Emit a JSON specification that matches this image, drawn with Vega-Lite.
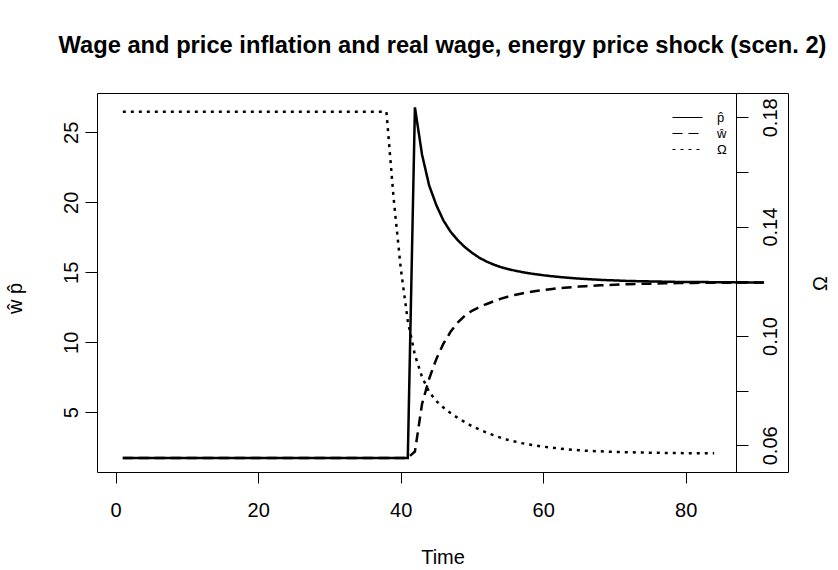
{
  "$schema": "https://vega.github.io/schema/vega-lite/v6.json",
  "width": 691,
  "height": 379,
  "autosize": {"type": "none"},
  "padding": {"left": 97, "top": 93, "right": 50, "bottom": 98},
  "background": "white",
  "config": {
    "view": {"stroke": "black", "strokeWidth": 1},
    "font": "Liberation Sans",
    "axis": {"labelFont": "Liberation Sans", "titleFont": "Liberation Sans", "labelColor": "black", "titleColor": "black", "tickColor": "black", "domainColor": "black", "grid": false, "labelFontSize": 20, "titleFontSize": 20, "titleFontWeight": "normal", "tickWidth": 1, "domainWidth": 1}
  },
  "title": {"text": "Wage and price inflation and real wage, energy price shock (scen. 2)", "font": "Liberation Sans", "fontSize": 23.7, "fontWeight": "bold", "color": "black", "anchor": "middle", "baseline": "alphabetic", "offset": 16},
  "data": {"values": [
    {"t":1,"s":"p̂","v":1.74},{"t":2,"s":"p̂","v":1.74},{"t":3,"s":"p̂","v":1.74},{"t":4,"s":"p̂","v":1.74},{"t":5,"s":"p̂","v":1.74},{"t":6,"s":"p̂","v":1.74},{"t":7,"s":"p̂","v":1.74},{"t":8,"s":"p̂","v":1.74},{"t":9,"s":"p̂","v":1.74},{"t":10,"s":"p̂","v":1.74},
    {"t":11,"s":"p̂","v":1.74},{"t":12,"s":"p̂","v":1.74},{"t":13,"s":"p̂","v":1.74},{"t":14,"s":"p̂","v":1.74},{"t":15,"s":"p̂","v":1.74},{"t":16,"s":"p̂","v":1.74},{"t":17,"s":"p̂","v":1.74},{"t":18,"s":"p̂","v":1.74},{"t":19,"s":"p̂","v":1.74},{"t":20,"s":"p̂","v":1.74},
    {"t":21,"s":"p̂","v":1.74},{"t":22,"s":"p̂","v":1.74},{"t":23,"s":"p̂","v":1.74},{"t":24,"s":"p̂","v":1.74},{"t":25,"s":"p̂","v":1.74},{"t":26,"s":"p̂","v":1.74},{"t":27,"s":"p̂","v":1.74},{"t":28,"s":"p̂","v":1.74},{"t":29,"s":"p̂","v":1.74},{"t":30,"s":"p̂","v":1.74},
    {"t":31,"s":"p̂","v":1.74},{"t":32,"s":"p̂","v":1.74},{"t":33,"s":"p̂","v":1.74},{"t":34,"s":"p̂","v":1.74},{"t":35,"s":"p̂","v":1.74},{"t":36,"s":"p̂","v":1.74},{"t":37,"s":"p̂","v":1.74},{"t":38,"s":"p̂","v":1.74},{"t":39,"s":"p̂","v":1.74},{"t":40,"s":"p̂","v":1.74},
    {"t":41,"s":"p̂","v":1.74},{"t":42,"s":"p̂","v":26.78},{"t":43,"s":"p̂","v":23.4},{"t":44,"s":"p̂","v":21.2},{"t":45,"s":"p̂","v":19.8},{"t":46,"s":"p̂","v":18.7},{"t":47,"s":"p̂","v":17.9},{"t":48,"s":"p̂","v":17.3},{"t":49,"s":"p̂","v":16.8},{"t":50,"s":"p̂","v":16.4},
    {"t":51,"s":"p̂","v":16.05},{"t":52,"s":"p̂","v":15.78},{"t":53,"s":"p̂","v":15.56},{"t":54,"s":"p̂","v":15.38},{"t":55,"s":"p̂","v":15.24},{"t":56,"s":"p̂","v":15.12},{"t":57,"s":"p̂","v":15.02},{"t":58,"s":"p̂","v":14.93},{"t":59,"s":"p̂","v":14.86},{"t":60,"s":"p̂","v":14.79},
    {"t":61,"s":"p̂","v":14.73},{"t":62,"s":"p̂","v":14.68},{"t":63,"s":"p̂","v":14.63},{"t":64,"s":"p̂","v":14.59},{"t":65,"s":"p̂","v":14.55},{"t":66,"s":"p̂","v":14.52},{"t":67,"s":"p̂","v":14.49},{"t":68,"s":"p̂","v":14.46},{"t":69,"s":"p̂","v":14.44},{"t":70,"s":"p̂","v":14.42},
    {"t":71,"s":"p̂","v":14.4},{"t":72,"s":"p̂","v":14.38},{"t":73,"s":"p̂","v":14.37},{"t":74,"s":"p̂","v":14.36},{"t":75,"s":"p̂","v":14.35},{"t":76,"s":"p̂","v":14.34},{"t":77,"s":"p̂","v":14.33},{"t":78,"s":"p̂","v":14.32},{"t":79,"s":"p̂","v":14.31},{"t":80,"s":"p̂","v":14.31},
    {"t":81,"s":"p̂","v":14.3},{"t":82,"s":"p̂","v":14.3},{"t":83,"s":"p̂","v":14.3},{"t":84,"s":"p̂","v":14.29},{"t":85,"s":"p̂","v":14.29},{"t":86,"s":"p̂","v":14.29},{"t":87,"s":"p̂","v":14.28},{"t":88,"s":"p̂","v":14.28},{"t":89,"s":"p̂","v":14.28},{"t":90,"s":"p̂","v":14.28},{"t":91,"s":"p̂","v":14.28},
    {"t":1,"s":"ŵ","v":1.74},{"t":2,"s":"ŵ","v":1.74},{"t":3,"s":"ŵ","v":1.74},{"t":4,"s":"ŵ","v":1.74},{"t":5,"s":"ŵ","v":1.74},{"t":6,"s":"ŵ","v":1.74},{"t":7,"s":"ŵ","v":1.74},{"t":8,"s":"ŵ","v":1.74},{"t":9,"s":"ŵ","v":1.74},{"t":10,"s":"ŵ","v":1.74},
    {"t":11,"s":"ŵ","v":1.74},{"t":12,"s":"ŵ","v":1.74},{"t":13,"s":"ŵ","v":1.74},{"t":14,"s":"ŵ","v":1.74},{"t":15,"s":"ŵ","v":1.74},{"t":16,"s":"ŵ","v":1.74},{"t":17,"s":"ŵ","v":1.74},{"t":18,"s":"ŵ","v":1.74},{"t":19,"s":"ŵ","v":1.74},{"t":20,"s":"ŵ","v":1.74},
    {"t":21,"s":"ŵ","v":1.74},{"t":22,"s":"ŵ","v":1.74},{"t":23,"s":"ŵ","v":1.74},{"t":24,"s":"ŵ","v":1.74},{"t":25,"s":"ŵ","v":1.74},{"t":26,"s":"ŵ","v":1.74},{"t":27,"s":"ŵ","v":1.74},{"t":28,"s":"ŵ","v":1.74},{"t":29,"s":"ŵ","v":1.74},{"t":30,"s":"ŵ","v":1.74},
    {"t":31,"s":"ŵ","v":1.74},{"t":32,"s":"ŵ","v":1.74},{"t":33,"s":"ŵ","v":1.74},{"t":34,"s":"ŵ","v":1.74},{"t":35,"s":"ŵ","v":1.74},{"t":36,"s":"ŵ","v":1.74},{"t":37,"s":"ŵ","v":1.74},{"t":38,"s":"ŵ","v":1.74},{"t":39,"s":"ŵ","v":1.74},{"t":40,"s":"ŵ","v":1.74},
    {"t":41,"s":"ŵ","v":1.74},{"t":42,"s":"ŵ","v":2.2},{"t":43,"s":"ŵ","v":5.6},{"t":44,"s":"ŵ","v":7.4},{"t":45,"s":"ŵ","v":8.8},{"t":46,"s":"ŵ","v":9.9},{"t":47,"s":"ŵ","v":10.75},{"t":48,"s":"ŵ","v":11.4},{"t":49,"s":"ŵ","v":11.9},{"t":50,"s":"ŵ","v":12.25},
    {"t":51,"s":"ŵ","v":12.5},{"t":52,"s":"ŵ","v":12.72},{"t":53,"s":"ŵ","v":12.92},{"t":54,"s":"ŵ","v":13.1},{"t":55,"s":"ŵ","v":13.25},{"t":56,"s":"ŵ","v":13.38},{"t":57,"s":"ŵ","v":13.49},{"t":58,"s":"ŵ","v":13.58},{"t":59,"s":"ŵ","v":13.66},{"t":60,"s":"ŵ","v":13.73},
    {"t":61,"s":"ŵ","v":13.79},{"t":62,"s":"ŵ","v":13.85},{"t":63,"s":"ŵ","v":13.9},{"t":64,"s":"ŵ","v":13.94},{"t":65,"s":"ŵ","v":13.98},{"t":66,"s":"ŵ","v":14.01},{"t":67,"s":"ŵ","v":14.04},{"t":68,"s":"ŵ","v":14.07},{"t":69,"s":"ŵ","v":14.09},{"t":70,"s":"ŵ","v":14.11},
    {"t":71,"s":"ŵ","v":14.13},{"t":72,"s":"ŵ","v":14.15},{"t":73,"s":"ŵ","v":14.16},{"t":74,"s":"ŵ","v":14.18},{"t":75,"s":"ŵ","v":14.19},{"t":76,"s":"ŵ","v":14.2},{"t":77,"s":"ŵ","v":14.21},{"t":78,"s":"ŵ","v":14.22},{"t":79,"s":"ŵ","v":14.23},{"t":80,"s":"ŵ","v":14.23},
    {"t":81,"s":"ŵ","v":14.24},{"t":82,"s":"ŵ","v":14.25},{"t":83,"s":"ŵ","v":14.25},{"t":84,"s":"ŵ","v":14.26},{"t":85,"s":"ŵ","v":14.26},{"t":86,"s":"ŵ","v":14.26},{"t":87,"s":"ŵ","v":14.27},{"t":88,"s":"ŵ","v":14.27},{"t":89,"s":"ŵ","v":14.27},{"t":90,"s":"ŵ","v":14.27},{"t":91,"s":"ŵ","v":14.28},
    {"t":1,"s":"Ω","v":0.182},{"t":2,"s":"Ω","v":0.182},{"t":3,"s":"Ω","v":0.182},{"t":4,"s":"Ω","v":0.182},{"t":5,"s":"Ω","v":0.182},{"t":6,"s":"Ω","v":0.182},{"t":7,"s":"Ω","v":0.182},{"t":8,"s":"Ω","v":0.182},{"t":9,"s":"Ω","v":0.182},{"t":10,"s":"Ω","v":0.182},
    {"t":11,"s":"Ω","v":0.182},{"t":12,"s":"Ω","v":0.182},{"t":13,"s":"Ω","v":0.182},{"t":14,"s":"Ω","v":0.182},{"t":15,"s":"Ω","v":0.182},{"t":16,"s":"Ω","v":0.182},{"t":17,"s":"Ω","v":0.182},{"t":18,"s":"Ω","v":0.182},{"t":19,"s":"Ω","v":0.182},{"t":20,"s":"Ω","v":0.182},
    {"t":21,"s":"Ω","v":0.182},{"t":22,"s":"Ω","v":0.182},{"t":23,"s":"Ω","v":0.182},{"t":24,"s":"Ω","v":0.182},{"t":25,"s":"Ω","v":0.182},{"t":26,"s":"Ω","v":0.182},{"t":27,"s":"Ω","v":0.182},{"t":28,"s":"Ω","v":0.182},{"t":29,"s":"Ω","v":0.182},{"t":30,"s":"Ω","v":0.182},
    {"t":31,"s":"Ω","v":0.182},{"t":32,"s":"Ω","v":0.182},{"t":33,"s":"Ω","v":0.182},{"t":34,"s":"Ω","v":0.182},{"t":35,"s":"Ω","v":0.182},{"t":36,"s":"Ω","v":0.182},{"t":37,"s":"Ω","v":0.182},{"t":38,"s":"Ω","v":0.182},{"t":39,"s":"Ω","v":0.1507},{"t":40,"s":"Ω","v":0.125},
    {"t":41,"s":"Ω","v":0.1055},{"t":42,"s":"Ω","v":0.093},{"t":43,"s":"Ω","v":0.085},{"t":44,"s":"Ω","v":0.0795},{"t":45,"s":"Ω","v":0.0762},{"t":46,"s":"Ω","v":0.0738},{"t":47,"s":"Ω","v":0.0718},{"t":48,"s":"Ω","v":0.07},{"t":49,"s":"Ω","v":0.0685},{"t":50,"s":"Ω","v":0.067},
    {"t":51,"s":"Ω","v":0.0658},{"t":52,"s":"Ω","v":0.0647},{"t":53,"s":"Ω","v":0.0637},{"t":54,"s":"Ω","v":0.0628},{"t":55,"s":"Ω","v":0.062},{"t":56,"s":"Ω","v":0.0614},{"t":57,"s":"Ω","v":0.0608},{"t":58,"s":"Ω","v":0.0603},{"t":59,"s":"Ω","v":0.0599},{"t":60,"s":"Ω","v":0.0595},
    {"t":61,"s":"Ω","v":0.0592},{"t":62,"s":"Ω","v":0.0589},{"t":63,"s":"Ω","v":0.0586},{"t":64,"s":"Ω","v":0.0584},{"t":65,"s":"Ω","v":0.0582},{"t":66,"s":"Ω","v":0.058},{"t":67,"s":"Ω","v":0.0579},{"t":68,"s":"Ω","v":0.0578},{"t":69,"s":"Ω","v":0.0577},{"t":70,"s":"Ω","v":0.0576},
    {"t":71,"s":"Ω","v":0.0575},{"t":72,"s":"Ω","v":0.0575},{"t":73,"s":"Ω","v":0.0574},{"t":74,"s":"Ω","v":0.0574},{"t":75,"s":"Ω","v":0.0573},{"t":76,"s":"Ω","v":0.0573},{"t":77,"s":"Ω","v":0.0572},{"t":78,"s":"Ω","v":0.0572},{"t":79,"s":"Ω","v":0.0572},{"t":80,"s":"Ω","v":0.0571},
    {"t":81,"s":"Ω","v":0.0571},{"t":82,"s":"Ω","v":0.0571},{"t":83,"s":"Ω","v":0.0571},{"t":84,"s":"Ω","v":0.0571}
  ]},
  "layer": [
    {
      "transform": [{"filter": "datum.s !== 'Ω'"}],
      "mark": {"type": "line", "color": "black", "strokeWidth": 2.5, "strokeCap": "butt"},
      "encoding": {
        "x": {"field": "t", "type": "quantitative", "scale": {"domain": [-2.62, 94.36], "nice": false, "zero": false},
          "axis": {"values": [0, 20, 40, 60, 80], "title": "Time", "domain": false, "tickSize": 11, "labelPadding": 17, "titlePadding": 27}},
        "y": {"field": "v", "type": "quantitative", "scale": {"domain": [0.736, 27.807], "nice": false, "zero": false},
          "axis": {"values": [5, 10, 15, 20, 25], "title": "ŵ  p̂", "domain": false, "tickSize": 12, "labelAngle": -90, "labelAlign": "center", "labelBaseline": "bottom", "labelPadding": 4, "titleAngle": -90, "titleAlign": "center", "titleBaseline": "middle", "titleX": -82, "titleY": 205}},
        "strokeDash": {"field": "s", "type": "nominal", "scale": {"domain": ["p̂", "ŵ", "Ω"], "range": [[1, 0], [10, 6], [3, 5]]},
          "legend": {"title": null, "orient": "none", "legendX": 582, "legendY": 16, "symbolType": "M-2,0H2", "symbolSize": 225, "symbolStrokeWidth": 1.2, "symbolStrokeColor": "black", "labelFont": "Liberation Sans", "labelFontSize": 13, "labelColor": "black", "labelOffset": 21, "rowPadding": 0, "padding": 0}},
        "detail": {"field": "s"}
      }
    },
    {
      "transform": [{"filter": "datum.s === 'Ω'"}],
      "mark": {"type": "line", "color": "black", "strokeWidth": 2.5, "strokeCap": "butt"},
      "encoding": {
        "x": {"field": "t", "type": "quantitative"},
        "y": {"field": "v", "type": "quantitative", "scale": {"domain": [0.05023, 0.18889], "nice": false, "zero": false},
          "axis": {"orient": "right", "offset": -52, "values": [0.06, 0.08, 0.1, 0.12, 0.14, 0.16, 0.18], "labelExpr": "round(datum.value*100) % 4 == 2 ? format(datum.value, '.2f') : ''", "title": "Ω", "domain": true, "tickSize": 12, "labelAngle": -90, "labelAlign": "center", "labelBaseline": "top", "labelPadding": 12, "titleAngle": -90, "titleAlign": "center", "titleBaseline": "middle", "titleX": 84, "titleY": 190}},
        "strokeDash": {"field": "s", "type": "nominal"}
      }
    }
  ],
  "resolve": {"scale": {"y": "independent", "strokeDash": "shared"}}
}
